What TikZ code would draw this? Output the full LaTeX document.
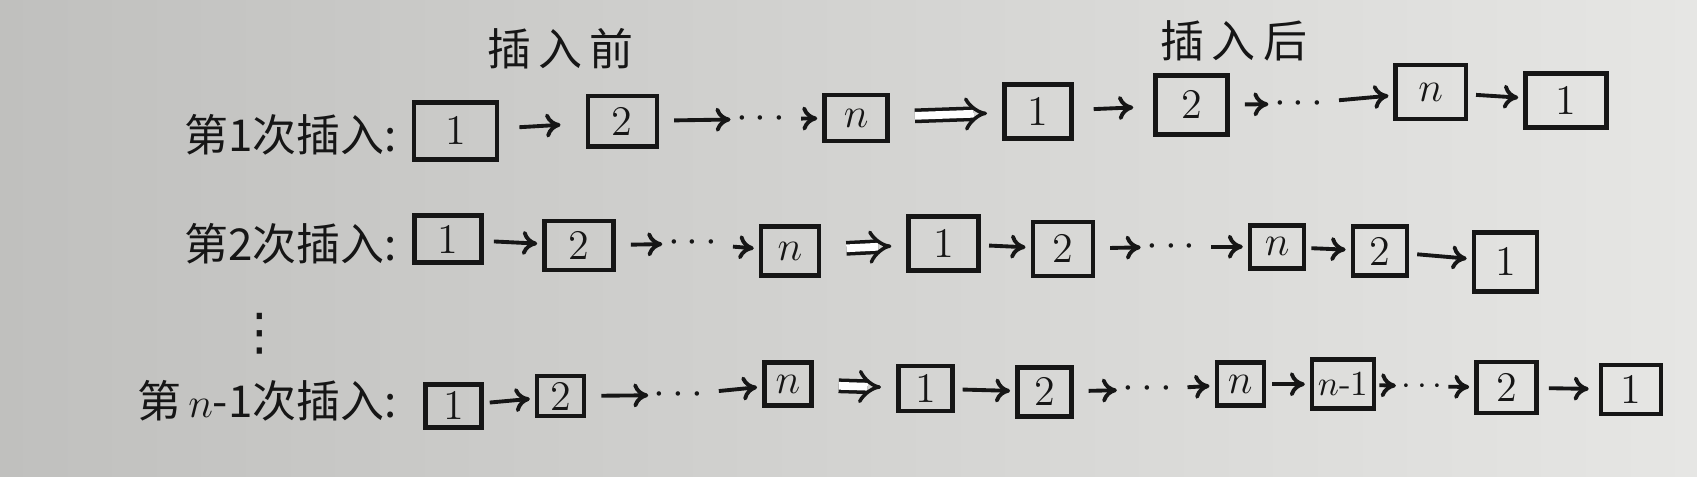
\documentclass[tikz,border=0pt]{standalone}
\usepackage{fontspec}
\newfontfamily\cjk{Noto Sans CJK SC}
\newfontfamily\sym{DejaVu Sans}
\usetikzlibrary{arrows.meta}

\definecolor{paperL}{RGB}{192,192,190}
\definecolor{paperR}{RGB}{230,230,228}
\definecolor{ink}{RGB}{22,22,22}

\tikzset{
  cell/.style={draw=ink, line width=1.3pt, minimum width=6.5mm, minimum height=5mm, inner sep=1pt, font=\large, text=ink},
  link/.style={draw=ink, line width=1.1pt, -{To[length=1.5mm,width=2.4mm]}, shorten <=1.5mm, shorten >=0.5mm},
  turn/.style={draw=ink, double, double distance=2.2pt, line width=1pt, -{Implies}, shorten <=2.5mm, shorten >=1.5mm},
  lab/.style={font=\cjk\fontsize{12.5}{14}\selectfont, text=ink},
  dots/.style={font=\large, text=ink, inner sep=0pt},
}

\begin{document}
\begin{tikzpicture}[x=0.010823cm,y=-0.010823cm]
  \useasboundingbox (0,0) rectangle (1568,440);
  \shade[left color=paperL, right color=paperR] (0,0) rectangle (1568,440);

  % titles
  \node[lab] (before) at (518,45) {插\,入\,前};
  \node[lab] (after)  at (1140,38) {插\,入\,后};

  % 1st insertion
  \node[lab,anchor=east] (lab1) at (378,125) {第1次插入:};
  \node[cell,minimum width=8.3mm,minimum height=5.7mm] (r1a1) at (421,121) {1};
  \node[cell,minimum width=6.9mm] (r1a2) at (575,112) {2};
  \node[dots] (r1ad) at (703,110) {$\cdots$};
  \node[cell,minimum width=6.3mm,minimum height=4.6mm] (r1an) at (791,109) {$n$};
  \node[cell,minimum width=6.7mm,minimum height=5.4mm] (r1b1) at (959,103) {1};
  \node[cell,minimum width=7.2mm,minimum height=5.9mm] (r1b2) at (1101,97) {2};
  \node[dots] (r1bd) at (1200,96) {$\cdots$};
  \node[cell,minimum width=7mm,minimum height=5.4mm] (r1bn) at (1322,85) {$n$};
  \node[cell,minimum width=8.1mm,minimum height=5.4mm] (r1bz) at (1447,93) {1};
  \draw[link,shorten <=2mm,shorten >=2.5mm] (r1a1) -- (r1a2);
  \draw[link] (r1a2) -- (r1ad);
  \draw[link] (r1ad) -- (r1an);
  \draw[turn] (r1an) -- (r1b1);
  \draw[link,shorten <=2mm,shorten >=2mm] (r1b1) -- (r1b2);
  \draw[link] (r1b2) -- (r1bd);
  \draw[link] (r1bd) -- (r1bn);
  \draw[link,shorten <=0.8mm] (r1bn) -- (r1bz);

  % 2nd insertion
  \node[lab,anchor=east] (lab2) at (378,225) {第2次插入:};
  \node[cell,minimum width=6.7mm,minimum height=4.7mm] (r2a1) at (414,221) {1};
  \node[cell,minimum width=6.9mm,minimum height=4.9mm] (r2a2) at (535,227) {2};
  \node[dots] (r2ad) at (640,225) {$\cdots$};
  \node[cell,minimum width=5.8mm,minimum height=4.9mm] (r2an) at (730,232) {$n$};
  \node[cell,minimum width=7mm,minimum height=5.4mm] (r2b1) at (872,225) {1};
  \node[cell,minimum width=6mm,minimum height=5.4mm] (r2b2) at (982,230) {2};
  \node[dots] (r2bd) at (1082,228) {$\cdots$};
  \node[cell,minimum width=5.4mm,minimum height=4.3mm] (r2bn) at (1180,228) {$n$};
  \node[cell,minimum width=5.4mm,minimum height=4.9mm] (r2by) at (1275,232) {2};
  \node[cell,minimum width=6.3mm,minimum height=5.9mm] (r2bz) at (1391,242) {1};
  \draw[link,shorten <=1mm] (r2a1) -- (r2a2);
  \draw[link] (r2a2) -- (r2ad);
  \draw[link] (r2ad) -- (r2an);
  \draw[turn] (r2an) -- (r2b1);
  \draw[link,shorten <=0.8mm] (r2b1) -- (r2b2);
  \draw[link] (r2b2) -- (r2bd);
  \draw[link] (r2bd) -- (r2bn);
  \draw[link,shorten <=0.5mm] (r2bn) -- (r2by);
  \draw[link,shorten <=0.8mm] (r2by) -- (r2bz);

  \node[font=\sym\Large, text=ink] (vdots) at (240,308) {⋮};

  % (n-1)th insertion
  \node[lab,anchor=east] (lab3) at (378,370) {第\,$n$-1次插入:};
  \node[cell,minimum width=5.6mm,minimum height=4.3mm] (r3a1) at (419,375) {1};
  \node[cell,minimum width=4.7mm,minimum height=4mm] (r3a2) at (518,366) {2};
  \node[dots] (r3ad) at (627,365) {$\cdots$};
  \node[cell,minimum width=4.7mm,minimum height=4.3mm] (r3an) at (728,355) {$n$};
  \node[cell,minimum width=5.4mm,minimum height=4.5mm] (r3b1) at (855,359) {1};
  \node[cell,minimum width=5.4mm,minimum height=4.9mm] (r3b2) at (965,362) {2};
  \node[dots] (r3bd) at (1060,360) {$\cdots$};
  \node[cell,minimum width=4.7mm,minimum height=4.3mm] (r3bn) at (1146,355) {$n$};
  \node[cell,minimum width=6.2mm,minimum height=4.9mm,font=\normalsize] (r3bm) at (1241,355) {$n$-1};
  \node[dots,font=\normalsize] (r3be) at (1314,357) {$\cdots$};
  \node[cell,minimum width=6mm,minimum height=5.1mm] (r3by) at (1392,358) {2};
  \node[cell,minimum width=6mm,minimum height=4.9mm] (r3bz) at (1507,360) {1};
  \draw[link,shorten <=0.6mm] (r3a1) -- (r3a2);
  \draw[link] (r3a2) -- (r3ad);
  \draw[link] (r3ad) -- (r3an);
  \draw[turn] (r3an) -- (r3b1);
  \draw[link,shorten <=0.8mm] (r3b1) -- (r3b2);
  \draw[link] (r3b2) -- (r3bd);
  \draw[link] (r3bd) -- (r3bn);
  \draw[link,shorten <=0.6mm] (r3bn) -- (r3bm);
  \draw[link,shorten <=0.3mm] (r3bm) -- (r3be);
  \draw[link,shorten <=0.5mm] (r3be) -- (r3by);
  \draw[link,shorten <=1mm,shorten >=1mm] (r3by) -- (r3bz);
\end{tikzpicture}
\end{document}
